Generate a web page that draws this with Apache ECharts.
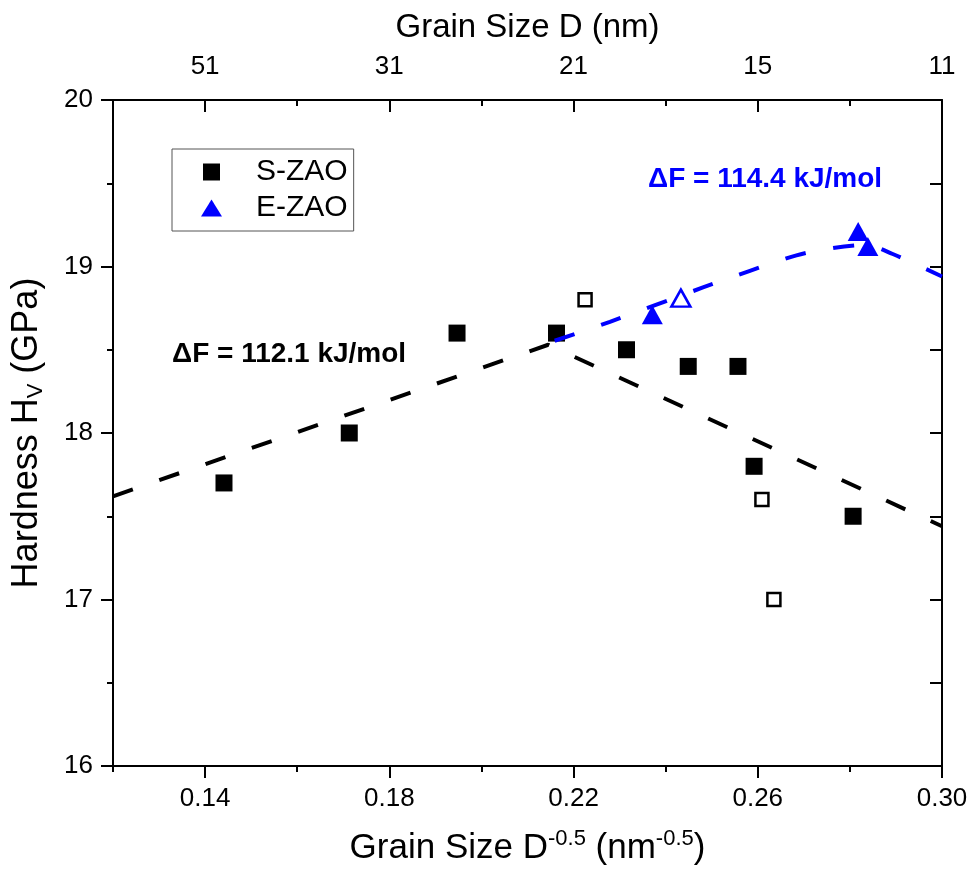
<!DOCTYPE html>
<html>
<head>
<meta charset="utf-8">
<script src="https://cdn.jsdelivr.net/npm/echarts@6/dist/echarts.min.js"></script>
<style>
html,body{margin:0;padding:0;background:#fff;}
#chart{width:973px;height:876px;}
</style>
</head>
<body>
<div id="chart"></div>
<script>
// ---- data ----
const sFilledX = [0.1441, 0.1713, 0.1947, 0.2163, 0.2315, 0.2449, 0.2557, 0.2592, 0.2807];
const sFilledY = [17.70, 18.00, 18.60, 18.60, 18.50, 18.40, 18.40, 17.80, 17.50];
const sOpenX = [0.2225, 0.2609, 0.2635];
const sOpenY = [18.80, 17.60, 17.00];
const eFilledX = [0.2371, 0.2818, 0.2839];
const eFilledY = [18.71, 19.21, 19.12];
const eOpenX = [0.2433];
const eOpenY = [18.81];
const sFitX = [0.12, 0.2145, 0.30];
const sFitY = [17.62, 18.53, 17.44];
const eFitX = [0.2159, 0.2279, 0.2481, 0.2583, 0.2684, 0.2760, 0.2835, 0.2893, 0.30];
const eFitY = [18.554, 18.668, 18.874, 18.974, 19.067, 19.110, 19.130, 19.075, 18.94];
const xMajorTicks = [0.14, 0.18, 0.22, 0.26, 0.30];
const xMinorTicks = [0.12, 0.16, 0.20, 0.24, 0.28];
const topTickLabels = ['51', '31', '21', '15', '11'];
const seriesNames = ['S-ZAO', 'E-ZAO'];
const annotS = 'ΔF = 112.1 kJ/mol';
const annotE = 'ΔF = 114.4 kJ/mol';

const zip = (xs, ys) => xs.map((x, i) => [x, ys[i]]);
const FONT = 'Arial, "Liberation Sans", sans-serif';
const BLUE = '#0000ff';
const axisLine = { show: true, onZero: false, lineStyle: { color: '#000', width: 2 } };

const chart = echarts.init(document.getElementById('chart'), null, { renderer: 'canvas' });

const xBase = { type: 'value', min: 0.12, max: 0.30, interval: 0.02, splitLine: { show: false }, gridIndex: 0 };

const option = {
  backgroundColor: '#fff',
  animation: false,
  textStyle: { fontFamily: FONT },
  grid: { left: 113, right: 31, top: 100, bottom: 110, containLabel: false },
  legend: {
    left: 172, top: 149,
    orient: 'vertical',
    data: [
      { name: seriesNames[0], icon: 'path://M0,0L1,0L1,1L0,1Z' },
      { name: seriesNames[1], icon: 'triangle' }
    ],
    itemWidth: 21, itemHeight: 17, itemGap: 6,
    symbolKeepAspect: true,
    borderColor: '#555', borderWidth: 1,
    padding: [8, 6, 8, 29],
    textStyle: { fontSize: 30, color: '#000', fontFamily: FONT, lineHeight: 30, padding: [0, 0, 0, 29] },
    selectedMode: false
  },
  xAxis: [
    Object.assign({}, xBase, {
      position: 'bottom',
      axisLine: axisLine,
      axisTick: { show: true, inside: false, length: 12, customValues: xMajorTicks, lineStyle: { color: '#000', width: 2 } },
      axisLabel: { show: true, customValues: xMajorTicks, formatter: v => v.toFixed(2), fontSize: 26, color: '#000', margin: 20, fontFamily: FONT },
      name: '{a|Grain Size D}{sup|-0.5}{a| (nm}{sup|-0.5}{a|)}',
      nameLocation: 'middle', nameGap: 62,
      nameTextStyle: {
        rich: {
          a: { fontSize: 35, color: '#000', fontFamily: FONT, lineHeight: 40 },
          sup: { fontSize: 22, color: '#000', fontFamily: FONT, lineHeight: 22, verticalAlign: 'top' }
        }
      }
    }),
    Object.assign({}, xBase, {
      position: 'bottom',
      axisLine: { show: false },
      axisTick: { show: true, inside: false, length: 6, customValues: xMinorTicks, lineStyle: { color: '#000', width: 2 } },
      axisLabel: { show: false }
    }),
    Object.assign({}, xBase, {
      position: 'top',
      axisLine: axisLine,
      axisTick: { show: true, inside: true, length: 12, customValues: xMajorTicks, lineStyle: { color: '#000', width: 2 } },
      axisLabel: {
        show: true, customValues: xMajorTicks, fontSize: 26, color: '#000', margin: 20, fontFamily: FONT,
        formatter: v => { const i = xMajorTicks.findIndex(t => Math.abs(t - v) < 1e-6); return i >= 0 ? topTickLabels[i] : ''; }
      },
      name: 'Grain Size D (nm)',
      nameLocation: 'middle', nameGap: 56,
      nameTextStyle: { fontSize: 33, color: '#000', fontFamily: FONT }
    }),
    Object.assign({}, xBase, {
      position: 'top',
      axisLine: { show: false },
      axisTick: { show: true, inside: true, length: 6, customValues: xMinorTicks.slice(1), lineStyle: { color: '#000', width: 2 } },
      axisLabel: { show: false }
    })
  ],
  yAxis: [
    {
      type: 'value', min: 16, max: 20, interval: 1, position: 'left',
      splitLine: { show: false },
      axisLine: axisLine,
      axisTick: { show: true, inside: false, length: 12, lineStyle: { color: '#000', width: 2 } },
      minorTick: { show: true, splitNumber: 2, length: 6, lineStyle: { color: '#000', width: 2 } },
      axisLabel: { fontSize: 26, color: '#000', margin: 20, fontFamily: FONT },
      name: '{a|Hardness H}{sub|V}{a| (GPa)}',
      nameLocation: 'middle', nameGap: 66, nameRotate: 90,
      nameTextStyle: {
        rich: {
          a: { fontSize: 36, color: '#000', fontFamily: FONT, lineHeight: 40 },
          sub: { fontSize: 22, color: '#000', fontFamily: FONT, lineHeight: 22, verticalAlign: 'bottom' }
        }
      }
    },
    {
      type: 'value', min: 16, max: 20, interval: 0.5, position: 'right',
      splitLine: { show: false },
      axisLine: axisLine,
      axisTick: { show: true, inside: true, length: 12, lineStyle: { color: '#000', width: 2 } },
      axisLabel: { show: false }
    }
  ],
  graphic: [
    { type: 'text', x: 172, y: 354, style: { text: annotS, font: 'bold 28px ' + FONT, fill: '#000', textAlign: 'left', textVerticalAlign: 'middle' } },
    { type: 'text', x: 648, y: 179, style: { text: annotE, font: 'bold 28px ' + FONT, fill: BLUE, textAlign: 'left', textVerticalAlign: 'middle' } }
  ],
  series: [
    {
      name: seriesNames[0], type: 'scatter', data: zip(sFilledX, sFilledY),
      symbol: 'rect', symbolSize: 17, itemStyle: { color: '#000', opacity: 1 }, z: 3
    },
    {
      name: 'S-ZAO open', type: 'scatter', data: zip(sOpenX, sOpenY),
      symbol: 'rect', symbolSize: 13, itemStyle: { color: '#fff', borderColor: '#000', borderWidth: 2.5, opacity: 1 }, z: 3
    },
    {
      name: 'S-ZAO fit', type: 'line', data: zip(sFitX, sFitY), showSymbol: false, symbol: 'none',
      lineStyle: { color: '#000', width: 4, type: [21, 28] }, z: 4, silent: true
    },
    {
      name: 'E-ZAO fit', type: 'line', data: zip(eFitX, eFitY), showSymbol: false, symbol: 'none', smooth: 0.3,
      lineStyle: { color: BLUE, width: 4, type: [21, 28] }, z: 4, silent: true
    },
    {
      name: seriesNames[1], type: 'scatter', data: zip(eFilledX, eFilledY),
      symbol: 'triangle', symbolSize: [21, 19], itemStyle: { color: BLUE, opacity: 1 }, z: 5
    },
    {
      name: 'E-ZAO open', type: 'scatter', data: zip(eOpenX, eOpenY),
      symbol: 'triangle', symbolSize: [19, 17], itemStyle: { color: '#fff', borderColor: BLUE, borderWidth: 2.5, opacity: 1 }, z: 5
    }
  ]
};
chart.setOption(option);
</script>
</body>
</html>
